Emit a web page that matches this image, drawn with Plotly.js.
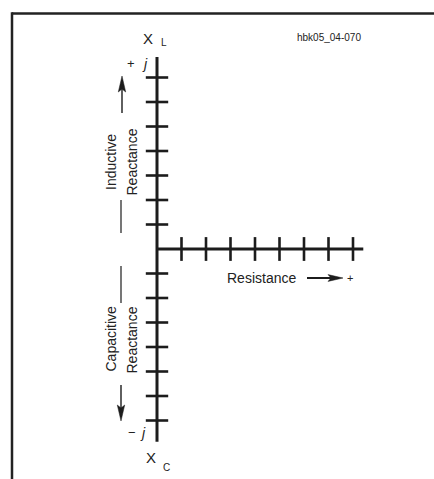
<!DOCTYPE html>
<html>
<head>
<meta charset="utf-8">
<script src="https://cdn.plot.ly/plotly-3.0.1.min.js"></script>
<style>html,body{margin:0;padding:0;background:#fff;}#chart{width:434px;height:479px;}</style>
</head>
<body>
<div id="chart"></div>
<script>
// ---- data ----
const resistanceTicks = [1, 2, 3, 4, 5, 6, 7, 8];
const inductiveTicks = [1, 2, 3, 4, 5, 6, 7];
const capacitiveTicks = [-1, -2, -3, -4, -5, -6, -7];
const resistanceAxis = [0, 8.42];
const reactanceAxis = [-7.87, 7.84];
const labels = {
  inductive: "Inductive",
  capacitive: "Capacitive",
  reactance: "Reactance",
  resistance: "Resistance",
  code: "hbk05_04-070"
};

// ---- geometry helpers (pixel -> data) ----
const W = 434, H = 479, U = 24.5, OX = 157, OY = 249;
const dx = px => (px - OX) / U;
const dy = py => (OY - py) / U;
const ink = "#1c1c1c";
const FONT = "Liberation Sans, Arial, sans-serif";

const traces = [
  {x: resistanceAxis, y: resistanceAxis.map(() => 0), mode: "lines",
   line: {color: ink, width: 3}, hoverinfo: "skip"},
  {x: reactanceAxis.map(() => 0), y: reactanceAxis, mode: "lines",
   line: {color: ink, width: 3}, hoverinfo: "skip"},
  {x: resistanceTicks, y: resistanceTicks.map(() => 0), mode: "markers",
   marker: {symbol: "line-ns", size: 17, color: ink, line: {color: ink, width: 2.6}}, hoverinfo: "skip"},
  {x: inductiveTicks.map(() => 0), y: inductiveTicks, mode: "markers",
   marker: {symbol: "line-ew", size: 16, color: ink, line: {color: ink, width: 2.6}}, hoverinfo: "skip"},
  {x: capacitiveTicks.map(() => 0), y: capacitiveTicks, mode: "markers",
   marker: {symbol: "line-ew", size: 16, color: ink, line: {color: ink, width: 2.6}}, hoverinfo: "skip"}
];

function txt(text, px, py, size, extra) {
  return Object.assign({
    text: text, x: dx(px), y: dy(py), xref: "x", yref: "y",
    showarrow: false, xanchor: "center", yanchor: "middle",
    font: {family: FONT, size: size, color: "#222"}
  }, extra || {});
}

const annotations = [
  txt("X", 148, 38, 15),
  txt("L", 163.5, 42, 10),
  txt("+", 131, 63.5, 13),
  txt("<i>j</i>", 145, 63.5, 14),
  txt(labels.code, 328.5, 37.5, 10),
  txt(labels.inductive, 110.5, 162.5, 14, {textangle: -90}),
  txt(labels.reactance, 131, 162.5, 14, {textangle: -90}),
  txt(labels.capacitive, 110.5, 339, 14, {textangle: -90}),
  txt(labels.reactance, 131.5, 340, 14, {textangle: -90}),
  txt(labels.resistance, 261.5, 278, 14),
  txt("+", 349.5, 278, 11),
  txt("\u2212", 131.5, 432.5, 13),
  txt("<i>j</i>", 143, 433, 14),
  txt("X", 151, 457, 15),
  txt("C", 166.5, 467, 10)
];

const px2paperX = px => px / W;
const px2paperY = py => 1 - py / H;
function pline(x0, y0, x1, y1, w) {
  return {type: "line", xref: "x", yref: "y", x0: dx(x0), x1: dx(x1), y0: dy(y0), y1: dy(y1),
          line: {color: ink, width: w}};
}
function tri(pts) {
  const d = "M " + pts.map(p => dx(p[0]) + "," + dy(p[1])).join(" L ") + " Z";
  return {type: "path", xref: "x", yref: "y", path: d, fillcolor: ink, line: {color: ink, width: 0.5}};
}
const shapes = [
  {type: "line", xref: "paper", yref: "paper", x0: px2paperX(12), x1: px2paperX(434),
   y0: px2paperY(13.5), y1: px2paperY(13.5), line: {color: "#222", width: 2.5}},
  {type: "line", xref: "paper", yref: "paper", x0: px2paperX(12), x1: px2paperX(12),
   y0: px2paperY(12.3), y1: px2paperY(479), line: {color: "#222", width: 2.5}},
  pline(121, 200, 121, 233, 1.2),
  pline(121, 266, 121, 303, 1.2),
  // up arrow
  pline(122, 113, 122, 88, 1.4),
  tri([[122, 76], [118.3, 92], [122, 89], [125.7, 92]]),
  // down arrow
  pline(121, 385, 121, 408, 1.4),
  tri([[121, 421], [117.3, 405], [121, 408], [124.7, 405]]),
  // resistance arrow
  pline(307, 278, 332, 278, 2),
  tri([[343, 278], [328, 274.6], [331, 278], [328, 281.4]])
];

const layout = {
  width: W, height: H,
  margin: {l: 0, r: 0, t: 0, b: 0, pad: 0},
  paper_bgcolor: "#fff", plot_bgcolor: "#fff",
  showlegend: false,
  xaxis: {range: [dx(0), dx(W)], visible: false, fixedrange: true},
  yaxis: {range: [dy(H), dy(0)], visible: false, fixedrange: true},
  annotations: annotations,
  shapes: shapes
};

Plotly.newPlot("chart", traces, layout, {displayModeBar: false, staticPlot: true});
</script>
</body>
</html>
